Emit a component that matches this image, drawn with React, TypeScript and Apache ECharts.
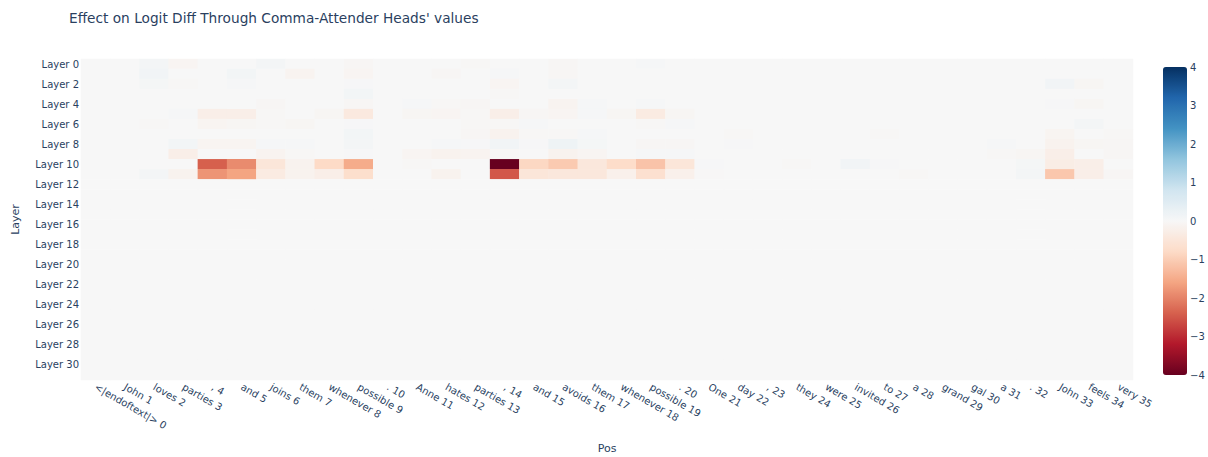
import React, { useEffect, useRef } from "react";
import * as echarts from "echarts";

const TITLE = "Effect on Logit Diff Through Comma-Attender Heads' values";

const tokens = [
  "<|endoftext|>", "John", "loves", "parties", ",", "and", "joins", "them", "whenever", "possible",
  ".", "Anne", "hates", "parties", ",", "and", "avoids", "them", "whenever", "possible",
  ".", "One", "day", ",", "they", "were", "invited", "to", "a", "grand",
  "gal", "a", ".", "John", "feels", "very",
];
const posLabels = tokens.map((t, i) => `${t} ${i}`);
const layerLabels = Array.from({ length: 32 }, (_, i) => `Layer ${i}`);
const colorTicks = [-4, -3, -2, -1, 0, 1, 2, 3, 4];

// values per layer, one entry per position (0..35)
const layer0 = [0, 0, 0.08, -0.08, 0, 0, 0.08, 0, 0, -0.05, 0, 0, 0, -0.03, 0, 0, -0.05, 0, 0, 0.05, 0, 0, 0, 0, 0, 0, 0, 0, 0, 0, 0, 0, 0, 0, 0, 0];
const layer1 = [0, 0, 0.12, 0, 0, 0.1, 0, -0.12, 0, -0.08, 0, 0, -0.05, 0, 0.05, 0, -0.05, 0, 0, 0, 0, 0, 0, 0, 0, 0, 0, 0, 0, 0, 0, 0, 0, 0, 0, 0];
const layer2 = [0, 0, 0.06, -0.03, 0, 0.05, 0, 0, 0, 0.03, 0, 0, 0, 0, -0.08, 0, 0.08, 0, 0, 0, 0, 0, 0, 0, 0, 0, 0, 0, 0, 0, 0, 0, 0, 0.12, -0.06, 0];
const layer3 = [0, 0, 0, 0, 0, 0, 0, 0, 0, 0.1, 0, 0, 0, 0, -0.03, 0, 0, 0, 0, 0, 0, 0, 0, 0, 0, 0, 0, 0, 0, 0, 0, 0, 0, 0, 0, 0];
const layer4 = [0, 0, 0, 0, 0, 0, -0.05, 0, 0, -0.05, 0, 0.05, -0.03, -0.05, 0, 0, -0.12, 0.05, 0, 0.05, 0, 0, 0, 0, 0, 0, 0, 0, 0, 0, 0, 0, 0, 0.03, -0.06, 0];
const layer5 = [0, 0, 0, 0.05, -0.25, -0.25, -0.03, 0, -0.06, -0.4, 0, -0.06, -0.08, -0.03, -0.25, -0.05, -0.08, 0.04, -0.06, -0.35, -0.06, 0, 0, 0, 0, 0, 0, 0, 0, 0, 0, 0, 0, 0, 0, 0];
const layer6 = [0, 0, -0.04, 0, -0.1, -0.06, -0.04, -0.06, 0, 0.03, 0, 0, 0, -0.04, -0.03, 0.04, 0, 0, 0, -0.04, 0.04, 0, 0, 0, 0, 0, 0, 0, 0, 0, 0, 0, 0, 0, 0.08, 0];
const layer7 = [0, 0, 0, 0, 0, 0, 0, 0, 0, 0.1, 0, 0, 0, -0.05, -0.15, -0.04, -0.03, 0.05, 0, 0, 0, 0, -0.03, 0, 0, 0, 0, -0.04, 0, 0, 0, 0, 0, -0.1, 0, -0.03];
const layer8 = [0, 0, 0, 0.1, -0.1, -0.1, 0.05, 0.05, 0, 0.08, 0, 0, 0.05, 0.03, 0.12, 0.03, 0.18, 0.06, 0, -0.05, -0.05, 0, 0.03, 0, 0, 0, 0, 0, 0, 0, 0, 0.04, 0, -0.15, -0.06, -0.05];
const layer9 = [0, 0, 0, -0.25, 0, 0, -0.12, -0.04, 0, 0.03, 0, -0.08, -0.15, -0.12, -0.03, 0, -0.15, -0.08, 0, 0.05, 0.05, 0, 0, 0, 0, 0, 0, 0, 0, 0, 0, -0.03, -0.06, -0.25, 0, -0.05];
const layer10 = [0, 0, 0, 0, -2.4, -1.9, -0.5, -0.15, -0.8, -1.5, 0, -0.04, 0, 0, -4.0, -0.85, -1.05, -0.45, -0.75, -1.15, -0.5, 0.03, 0, 0, -0.04, 0, 0.12, 0.03, 0, 0, 0, 0, 0.06, -0.3, -0.25, 0];
const layer11 = [0, 0, 0.08, -0.15, -1.8, -1.6, -0.35, -0.15, -0.25, -0.7, 0, 0, -0.15, 0, -2.5, -0.5, -0.45, -0.45, -0.2, -0.65, -0.2, -0.02, 0, 0, 0, 0, 0, 0, -0.04, 0, 0, 0, 0.08, -1.1, -0.25, -0.05];
const emptyLayer = [0, 0, 0, 0, 0, 0, 0, 0, 0, 0, 0, 0, 0, 0, 0, 0, 0, 0, 0, 0, 0, 0, 0, 0, 0, 0, 0, 0, 0, 0, 0, 0, 0, 0, 0, 0];

const layers = [
  layer0, layer1, layer2, layer3, layer4, layer5, layer6, layer7, layer8, layer9, layer10, layer11,
  emptyLayer, emptyLayer, emptyLayer, emptyLayer, emptyLayer, emptyLayer, emptyLayer, emptyLayer,
  emptyLayer, emptyLayer, emptyLayer, emptyLayer, emptyLayer, emptyLayer, emptyLayer, emptyLayer,
  emptyLayer, emptyLayer, emptyLayer, emptyLayer,
];

const RdBu = [
  "rgb(103,0,31)", "rgb(178,24,43)", "rgb(214,96,77)", "rgb(244,165,130)", "rgb(253,219,199)",
  "rgb(247,247,247)", "rgb(209,229,240)", "rgb(146,197,222)", "rgb(67,147,195)", "rgb(33,102,172)", "rgb(5,48,97)",
];

const FONT = "DejaVu Sans";
const TXT = "#2a3f5f";

export default function App() {
  const ref = useRef<HTMLDivElement>(null);
  useEffect(() => {
    if (!ref.current) return;
    const chart = echarts.init(ref.current, undefined, { renderer: "svg" });
    const data: number[][] = [];
    layers.forEach((row, y) => row.forEach((v, x) => data.push([x, y, v])));
    chart.setOption({
      animation: false,
      backgroundColor: "#fff",
      textStyle: { fontFamily: FONT },
      title: {
        text: TITLE,
        left: 64,
        top: 6,
        textStyle: { fontFamily: FONT, fontSize: 13.7, fontWeight: "normal", color: TXT },
      },
      grid: [
        { left: 81, top: 59, width: 1052, height: 321, outerBoundsMode: "none", containLabel: false },
        { left: 1163, top: 67, width: 24, height: 308, outerBoundsMode: "none", containLabel: false },
      ],
      xAxis: [
        {
          type: "category",
          data: posLabels,
          gridIndex: 0,
          name: "Pos",
          nameLocation: "middle",
          nameGap: 63,
          nameTextStyle: { fontFamily: FONT, fontSize: 11, color: TXT },
          axisLine: { show: false },
          axisTick: { show: false },
          splitLine: { show: false },
          axisLabel: { interval: 0, rotate: -30, margin: 6, fontFamily: FONT, fontSize: 10, color: TXT },
        },
        { type: "value", gridIndex: 1, show: false, min: 0, max: 1 },
      ],
      yAxis: [
        {
          type: "category",
          data: layerLabels,
          gridIndex: 0,
          inverse: true,
          name: "Layer",
          nameLocation: "middle",
          nameGap: 60,
          nameRotate: 90,
          nameTextStyle: { fontFamily: FONT, fontSize: 11, color: TXT },
          axisLine: { show: false },
          axisTick: { show: false },
          splitLine: { show: false },
          axisLabel: { interval: 1, margin: 2, fontFamily: FONT, fontSize: 10, color: TXT },
        },
        {
          type: "value",
          gridIndex: 1,
          min: -4,
          max: 4,
          interval: 1,
          position: "right",
          axisLine: { show: false },
          axisTick: { show: false },
          splitLine: { show: false },
          axisLabel: {
            margin: 3,
            fontFamily: FONT,
            fontSize: 10,
            color: TXT,
            formatter: (v: number) => (v < 0 ? `\u2212${Math.abs(v)}` : `${v}`),
          },
        },
      ],
      visualMap: {
        type: "continuous",
        min: colorTicks[0],
        max: colorTicks[colorTicks.length - 1],
        seriesIndex: 0,
        calculable: false,
        show: true,
        left: 1163,
        top: 67,
        itemWidth: 24,
        itemHeight: 308,
        padding: 0,
        text: ["", ""],
        showLabel: false,
        inRange: { color: RdBu },
      },
      series: [
        {
          type: "heatmap",
          xAxisIndex: 0,
          yAxisIndex: 0,
          data,
          itemStyle: { borderWidth: 0 },
          emphasis: { disabled: true },
        },
      ],
    });
    return () => chart.dispose();
  }, []);
  return <div ref={ref} style={{ position: "fixed", left: 0, top: 0, width: 1208, height: 457 }} />;
}
